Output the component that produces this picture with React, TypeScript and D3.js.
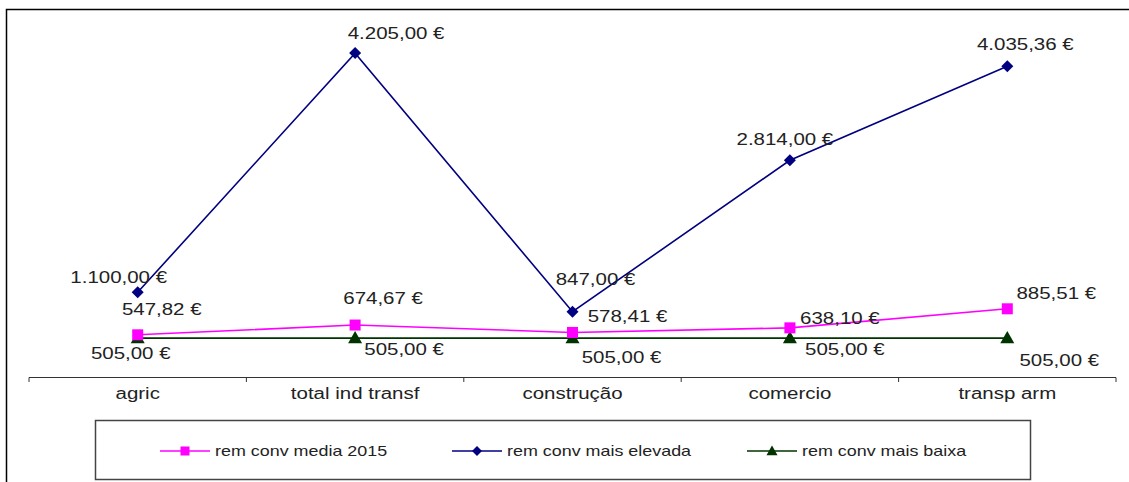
import { useEffect, useRef } from "react";
import * as d3 from "d3";

const categories = ["agric", "total ind transf", "construção", "comercio", "transp arm"];
const mediaValues = [547.82, 674.67, 578.41, 638.1, 885.51];
const elevadaValues = [1100, 4205, 847, 2814, 4035.36];
const baixaValues = [505, 505, 505, 505, 505];
const seriesNames = ["rem conv media 2015", "rem conv mais elevada", "rem conv mais baixa"];

// label offsets (dx from point, dy baseline from point) per series, per category
const mediaLabelOff = [[24, -20], [28, -21], [55, -10], [50, -4], [49, -10]];
const elevadaLabelOff = [[-19, -9], [41, -14], [23, -27], [-5, -15], [18, -16]];
const baixaLabelOff = [[-7, 21], [49, 17], [49, 25], [55, 17], [52, 28]];

const fmt = (v: number) => {
  const s = v.toFixed(2).split(".");
  const int = s[0].replace(/\B(?=(\d{3})+(?!\d))/g, ".");
  return `${int},${s[1]} €`;
};

export default function App() {
  const svgRef = useRef<SVGSVGElement>(null);

  useEffect(() => {
    const svg = d3.select(svgRef.current);
    svg.selectAll("*").remove();

    const width = 1129;
    const height = 482;
    const font = "'Liberation Sans', Arial, sans-serif";
    const stretch = 1.28;

    svg.attr("width", width).attr("height", height);

    svg
      .append("rect")
      .attr("x", 6.5)
      .attr("y", 9.5)
      .attr("width", 1140)
      .attr("height", 490)
      .attr("fill", "white")
      .attr("stroke", "#000")
      .attr("stroke-width", 1.5);

    const x = d3.scaleBand().domain(categories).range([29, 1116]);
    const y = d3.scaleLinear().domain([0, 4500]).range([377, 30.4]);
    const cx = (c: string) => (x(c) ?? 0) + x.bandwidth() / 2;

    // axis
    svg
      .append("line")
      .attr("x1", 29)
      .attr("x2", 1116)
      .attr("y1", 377.5)
      .attr("y2", 377.5)
      .attr("stroke", "#333")
      .attr("stroke-width", 1);
    const tickXs = d3.range(categories.length + 1).map((i) => 29 + i * x.bandwidth());
    svg
      .selectAll("line.tick-mark")
      .data(tickXs)
      .enter()
      .append("line")
      .attr("class", "tick-mark")
      .attr("x1", (d) => d)
      .attr("x2", (d) => d)
      .attr("y1", 377.5)
      .attr("y2", 382)
      .attr("stroke", "#333");
    svg
      .selectAll("text.cat")
      .data(categories)
      .enter()
      .append("text")
      .attr("class", "cat")
      .attr("transform", (d) => `translate(${cx(d)},399) scale(${stretch},1)`)
      .attr("text-anchor", "middle")
      .attr("font-family", font)
      .attr("font-size", 16)
      .attr("fill", "#222")
      .text((d) => d);

    const line = d3
      .line<number>()
      .x((_, i) => cx(categories[i]))
      .y((d) => y(d));

    const series = [
      { values: baixaValues, color: "#003300", marker: "tri", offs: baixaLabelOff },
      { values: mediaValues, color: "#ff00ff", marker: "sq", offs: mediaLabelOff },
      { values: elevadaValues, color: "#000080", marker: "dia", offs: elevadaLabelOff },
    ];

    const drawMarker = (
      g: d3.Selection<SVGGElement, unknown, null, undefined>,
      kind: string,
      px: number,
      py: number,
      color: string,
      big = true
    ) => {
      if (kind === "sq") {
        const s = big ? 11 : 9;
        g.append("rect")
          .attr("x", px - s / 2)
          .attr("y", py - s / 2)
          .attr("width", s)
          .attr("height", s)
          .attr("fill", color);
      } else if (kind === "dia") {
        const s = big ? 6 : 5;
        g.append("path")
          .attr("d", `M${px},${py - s}L${px + s},${py}L${px},${py + s}L${px - s},${py}Z`)
          .attr("fill", color);
      } else {
        const s = big ? 7 : 5.5;
        g.append("path")
          .attr("d", `M${px},${py - s}L${px + s},${py + s * 0.75}L${px - s},${py + s * 0.75}Z`)
          .attr("fill", color);
      }
    };

    const plot = svg.append("g");
    series.forEach((s) => {
      plot
        .append("path")
        .datum(s.values)
        .attr("d", line)
        .attr("fill", "none")
        .attr("stroke", s.color)
        .attr("stroke-width", 1.6);
    });
    series.forEach((s) => {
      s.values.forEach((v, i) => {
        drawMarker(plot, s.marker, cx(categories[i]), y(v), s.color);
      });
    });

    // labels
    series.forEach((s) => {
      s.values.forEach((v, i) => {
        const lx = cx(categories[i]) + s.offs[i][0];
        const ly = y(v) + s.offs[i][1];
        plot
          .append("text")
          .attr("transform", `translate(${lx},${ly}) scale(${stretch},1)`)
          .attr("text-anchor", "middle")
          .attr("font-family", font)
          .attr("font-size", 16)
          .attr("fill", "#222")
          .text(fmt(v));
      });
    });

    // legend
    const legend = svg.append("g");
    legend
      .append("rect")
      .attr("x", 95.5)
      .attr("y", 420.5)
      .attr("width", 935)
      .attr("height", 59)
      .attr("fill", "white")
      .attr("stroke", "#444")
      .attr("stroke-width", 1.5);

    const legendItems = [
      { name: seriesNames[0], color: "#ff00ff", marker: "sq", x: 160 },
      { name: seriesNames[1], color: "#000080", marker: "dia", x: 452 },
      { name: seriesNames[2], color: "#003300", marker: "tri", x: 747 },
    ];
    legendItems.forEach((d) => {
      legend
        .append("line")
        .attr("x1", d.x)
        .attr("x2", d.x + 50)
        .attr("y1", 451)
        .attr("y2", 451)
        .attr("stroke", d.color)
        .attr("stroke-width", 1.6);
      drawMarker(legend, d.marker, d.x + 25, 451, d.color, false);
      legend
        .append("text")
        .attr("transform", `translate(${d.x + 55},456) scale(${stretch},1)`)
        .attr("font-family", font)
        .attr("font-size", 14)
        .attr("fill", "#222")
        .text(d.name);
    });
  }, []);

  return (
    <svg
      ref={svgRef}
      style={{ position: "absolute", left: 0, top: 0, display: "block" }}
    ></svg>
  );
}
